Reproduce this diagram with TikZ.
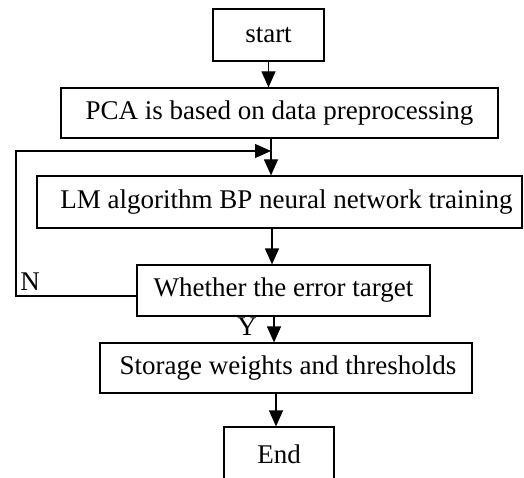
\documentclass[tikz,border=0pt]{standalone}
\usepackage{fontspec}
\setmainfont{Liberation Serif}
\usetikzlibrary{arrows.meta}

\begin{document}
\begin{tikzpicture}[x=1pt, y=-1pt,
    box/.style={draw=black, line width=1.2pt, rectangle, inner sep=0pt, font=\fontsize{27}{32}\selectfont},
    flow/.style={draw=black, line width=1.2pt, -{Triangle[width=14pt,length=16pt]}},
    yn/.style={inner sep=0pt, font=\fontsize{27}{32}\selectfont}]
  \useasboundingbox (0,0) rectangle (524,478);
  %
  \node[box, minimum width=111pt, minimum height=52pt] (start) at (268.5,35) {start};
  \node[box, minimum width=437pt, minimum height=50pt] (pca) at (279.5,113) {PCA is based on data preprocessing};
  \node[box, minimum width=485pt, minimum height=52pt] (lm) at (279.5,202) {\hspace{14pt}LM algorithm BP neural network training};
  \node[box, minimum width=293pt, minimum height=51pt] (whether) at (283.5,290.5) {Whether the error target};
  \node[box, minimum width=372pt, minimum height=50pt] (storage) at (286,368) {\hspace{4pt}Storage weights and thresholds};
  \node[box, minimum width=110pt, minimum height=54pt] (end) at (279,454) {End};
  %
  \node[yn] (n) at (30,282) {N};
  \node[yn] (y) at (247,327) {Y};
  \coordinate (j) at (271,151);
  \coordinate (c1) at (16,296);
  \coordinate (c2) at (16,151);
  %
  \draw[flow] (start.south) -- (start.south |- pca.north);
  \draw[line width=1.2pt] (pca.south -| j) -- (j);
  \draw[flow] (j) -- (j |- lm.north);
  \draw[flow] (lm.south -| 272,0) -- (whether.north -| 272,0);
  \draw[flow] (whether.south -| 274,0) -- (storage.north -| 274,0);
  \draw[flow] (storage.south -| 276,0) -- (end.north -| 276,0);
  \draw[flow] (whether.west |- c1) -- (c1) -- (c2) -- (j);
\end{tikzpicture}
\end{document}
